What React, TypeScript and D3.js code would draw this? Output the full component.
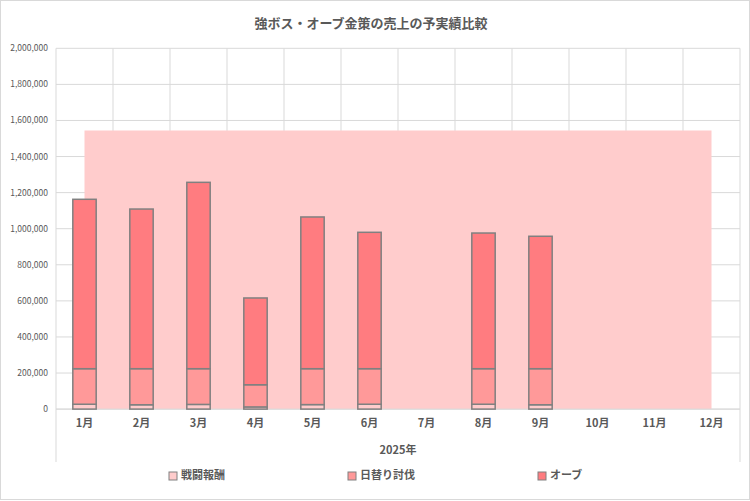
import React from "react";
import * as d3 from "d3";

const months = ["1月", "2月", "3月", "4月", "5月", "6月", "7月", "8月", "9月", "10月", "11月", "12月"];
const battleReward = [27000, 24000, 26000, 12000, 25000, 27000, 0, 27000, 24000, 0, 0, 0];
const dailyHunt = [197000, 200000, 198000, 123000, 199000, 197000, 0, 197000, 200000, 0, 0, 0];
const orb = [939000, 885000, 1033000, 481000, 841000, 756000, 0, 752000, 734000, 0, 0, 0];
const budget = [1545000, 1545000, 1545000, 1545000, 1545000, 1545000, 1545000, 1545000, 1545000, 1545000, 1545000, 1545000];
const yTicks = [0, 200000, 400000, 600000, 800000, 1000000, 1200000, 1400000, 1600000, 1800000, 2000000];
const seriesNames = ["戦闘報酬", "日替り討伐", "オーブ"];
const yearLabel = "2025年";
const title = "強ボス・オーブ金策の売上の予実績比較";

const W = 750;
const H = 501;
const FONT = "'Noto Sans CJK JP', 'Noto Sans', sans-serif";
const colors = ["#FFCCCC", "#FF9999", "#FF7C80"];
const areaColor = "#FFCCCC";
const gridColor = "#D9D9D9";
const textColor = "#595959";

export default function App() {
  const left = 56;
  const right = 740;
  const top = 48.3;
  const bottom = 409.1;

  const x = d3.scaleBand<string>().domain(months).range([left, right]).padding(0);
  const y = d3.scaleLinear().domain([0, 2000000]).range([bottom, top]);
  const step = x.step();
  const barW = step * 0.41;

  const seriesData = [battleReward, dailyHunt, orb];
  const rows = months.map((m, i) => ({ m, a: battleReward[i], b: dailyHunt[i], c: orb[i] }));
  const stack = d3.stack<any>().keys(["a", "b", "c"])(rows);

  const areaGen = d3
    .area<number>()
    .x((_, i) => (x(months[i]) as number) + step / 2)
    .y0(() => y(0))
    .y1((d) => y(d));

  const boundaries = d3.range(months.length + 1).map((i) => left + i * step);
  const fmt = d3.format(",");

  const legendX = [169, 348, 538];

  return (
    <svg
      width={W}
      height={H}
      style={{ position: "absolute", left: 0, top: 0, background: "#fff" }}
      fontFamily={FONT}
    >
      <rect x={0.5} y={0.5} width={W - 1} height={H - 2} fill="#fff" stroke={gridColor} strokeWidth={1} />
      <text x={371} y={28} textAnchor="middle" fontSize={13} fontWeight="bold" fill={textColor}>
        {title}
      </text>

      {/* gridlines */}
      {yTicks.map((t) => (
        <line key={"h" + t} x1={left} x2={right} y1={y(t)} y2={y(t)} stroke={gridColor} strokeWidth={1} />
      ))}
      {boundaries.map((bx, i) => (
        <line
          key={"v" + i}
          x1={bx}
          x2={bx}
          y1={top}
          y2={i === 0 || i === months.length ? 462 : bottom}
          stroke={gridColor}
          strokeWidth={1}
        />
      ))}

      {/* budget area */}
      <path d={areaGen(budget) || ""} fill={areaColor} />

      {/* axis line */}
      <line x1={left} x2={right} y1={y(0)} y2={y(0)} stroke={gridColor} strokeWidth={1} />

      {/* stacked bars */}
      {stack.map((layer, si) =>
        layer.map((d, i) => {
          const v = seriesData[si][i];
          if (!v) return null;
          const cx = (x(months[i]) as number) + step / 2;
          return (
            <rect
              key={si + "-" + i}
              x={cx - barW / 2}
              y={y(d[1])}
              width={barW}
              height={y(d[0]) - y(d[1])}
              fill={colors[si]}
              stroke="#808080"
              strokeWidth={1.5}
            />
          );
        })
      )}

      {/* y labels */}
      {yTicks.map((t) => (
        <text key={"yl" + t} x={48} y={y(t)} dy="0.35em" textAnchor="end" fontSize={8.5} fill={textColor}>
          {fmt(t)}
        </text>
      ))}

      {/* x labels */}
      {months.map((m) => (
        <text
          key={"xl" + m}
          x={(x(m) as number) + step / 2}
          y={423}
          dy="0.35em"
          textAnchor="middle"
          fontSize={11}
          fontWeight="bold"
          fill={textColor}
        >
          {m}
        </text>
      ))}
      <text x={(left + right) / 2} y={450} dy="0.35em" textAnchor="middle" fontSize={11} fontWeight="bold" fill={textColor}>
        {yearLabel}
      </text>

      {/* legend */}
      {seriesNames.map((n, i) => (
        <g key={"lg" + n}>
          <rect x={legendX[i]} y={472} width={8} height={8} fill={colors[i]} stroke="#808080" strokeWidth={1} />
          <text x={legendX[i] + 12} y={475.5} dy="0.35em" fontSize={11} fontWeight="bold" fill={textColor}>
            {n}
          </text>
        </g>
      ))}
    </svg>
  );
}
